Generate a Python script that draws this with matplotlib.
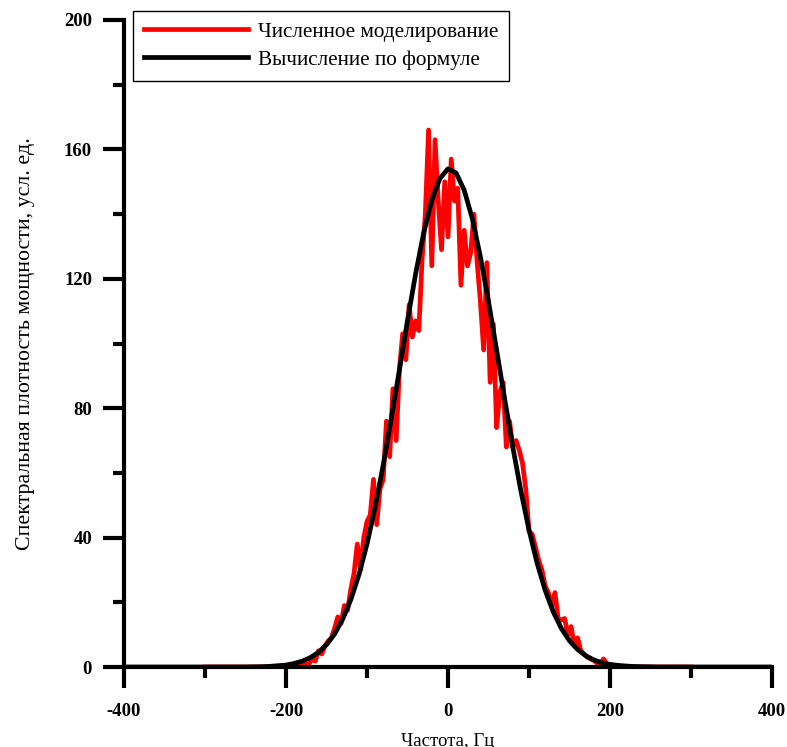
import matplotlib
matplotlib.use("Agg")
import matplotlib.pyplot as plt
from matplotlib.ticker import MultipleLocator

# frequency grid of the simulated spectrum, Hz
sim_freq = list(range(-300, 301, 4))
sim_core = [
    0.3, 0.2, 0.5, 0.3, 0.6, 0.4, 0.9, 0.7, 2.5, 1.8,
    5.0, 4.0, 6.5, 8.0, 9.0, 12.0, 15.5, 13.5, 19.0, 17.5,
    24.0, 29.0, 38.0, 30.0, 40.0, 45.0, 47.0, 58.0, 44.0, 55.0,
    58.0, 76.0, 65.0, 86.0, 70.0, 92.0, 103.0, 95.0, 112.0, 102.0,
    107.0, 104.0, 126.0, 140.0, 166.0, 124.0, 163.0, 144.0, 129.0, 150.0,
    133.0,
    157.0, 144.0, 148.0, 118.0, 135.0, 124.0, 128.0, 140.0, 125.0, 113.0,
    98.0, 125.0, 88.0, 106.0, 74.0, 85.0, 88.0, 68.0, 76.0, 68.0,
    70.0, 67.0, 63.0, 55.0, 42.0, 41.0, 37.0, 33.0, 30.0, 25.0,
    23.0, 19.0, 23.0, 15.0, 14.5, 15.0, 10.0, 12.5, 6.5, 9.0,
    5.0, 4.0, 3.0, 2.5, 2.0, 1.2, 1.0, 2.5, 1.0, 0.5,
]
sim_tail = [0.0] * 25
sim_vals = sim_tail + sim_core + sim_tail

# formula curve, read every 10 Hz from -400 to 400
calc_freq = list(range(-400, 401, 10))
calc_left = [0.0] * 16  # -400 .. -250
calc_mid = [
    0.05, 0.1, 0.2, 0.4,                                   # -240 .. -210
    0.6, 1.1, 1.8, 2.9, 4.5, 6.9, 10.2, 14.8, 20.8, 28.5,  # -200 .. -110
    38.0, 49.4, 62.4, 76.8, 91.8, 107.1, 121.5, 134.2, 144.3, 151.0,  # -100 .. -10
    154.0,                                                 # 0
    152.7, 147.4, 138.6, 126.8, 113.0, 98.0, 82.8, 68.0, 54.4, 42.4,  # 10 .. 100
    32.1, 23.7, 17.0, 11.9, 8.1, 5.4, 3.5, 2.2, 1.3, 0.8,  # 110 .. 200
    0.5, 0.3, 0.15, 0.1, 0.05,                             # 210 .. 250
]
calc_right = [0.0] * 15  # 260 .. 400
calc_vals = calc_left + calc_mid + calc_right

labels = ["Численное моделирование", "Вычисление по формуле"]

plt.rcParams['font.family'] = ['Liberation Serif', 'DejaVu Serif']
plt.rcParams['axes.unicode_minus'] = False

fig = plt.figure(figsize=(7.87, 7.47), dpi=100)
ax = fig.add_axes([124 / 787, 80 / 747, 648 / 787, 647 / 747])

ax.plot(sim_freq, sim_vals, color='red', lw=3.4, label=labels[0], zorder=2)
ax.plot(calc_freq, calc_vals, color='black', lw=3.4, label=labels[1], zorder=3)

ax.set_xlim(-400, 400)
ax.set_ylim(0, 200)
for side in ['top', 'right']:
    ax.spines[side].set_visible(False)
for side in ['left', 'bottom']:
    ax.spines[side].set_linewidth(3)

ax.xaxis.set_major_locator(MultipleLocator(200))
ax.xaxis.set_minor_locator(MultipleLocator(100))
ax.yaxis.set_major_locator(MultipleLocator(40))
ax.yaxis.set_minor_locator(MultipleLocator(20))
ax.tick_params(which='major', direction='out', length=15, width=3)
ax.tick_params(which='minor', direction='out', length=8, width=3)
ax.tick_params(axis='x', which='major', pad=11)
ax.tick_params(axis='y', which='major', pad=8)
for lab in ax.get_xticklabels() + ax.get_yticklabels():
    lab.set_fontweight('bold')
    lab.set_fontsize(13.5)

ax.set_xlabel("Частота, Гц", fontsize=13.5, labelpad=9)
ax.set_ylabel("Спектральная плотность мощности, усл. ед.", fontsize=15.8, labelpad=21)

leg = fig.legend(loc='upper left', bbox_to_anchor=(133 / 787, 1 - 11 / 747),
                 borderaxespad=0, fontsize=15.3, handlelength=4.9, handletextpad=0.5,
                 labelspacing=0.4, fancybox=False, framealpha=1, borderpad=0.5)
leg.get_frame().set_edgecolor('black')
leg.get_frame().set_linewidth(1)

fig.savefig("out.png", dpi=100)
